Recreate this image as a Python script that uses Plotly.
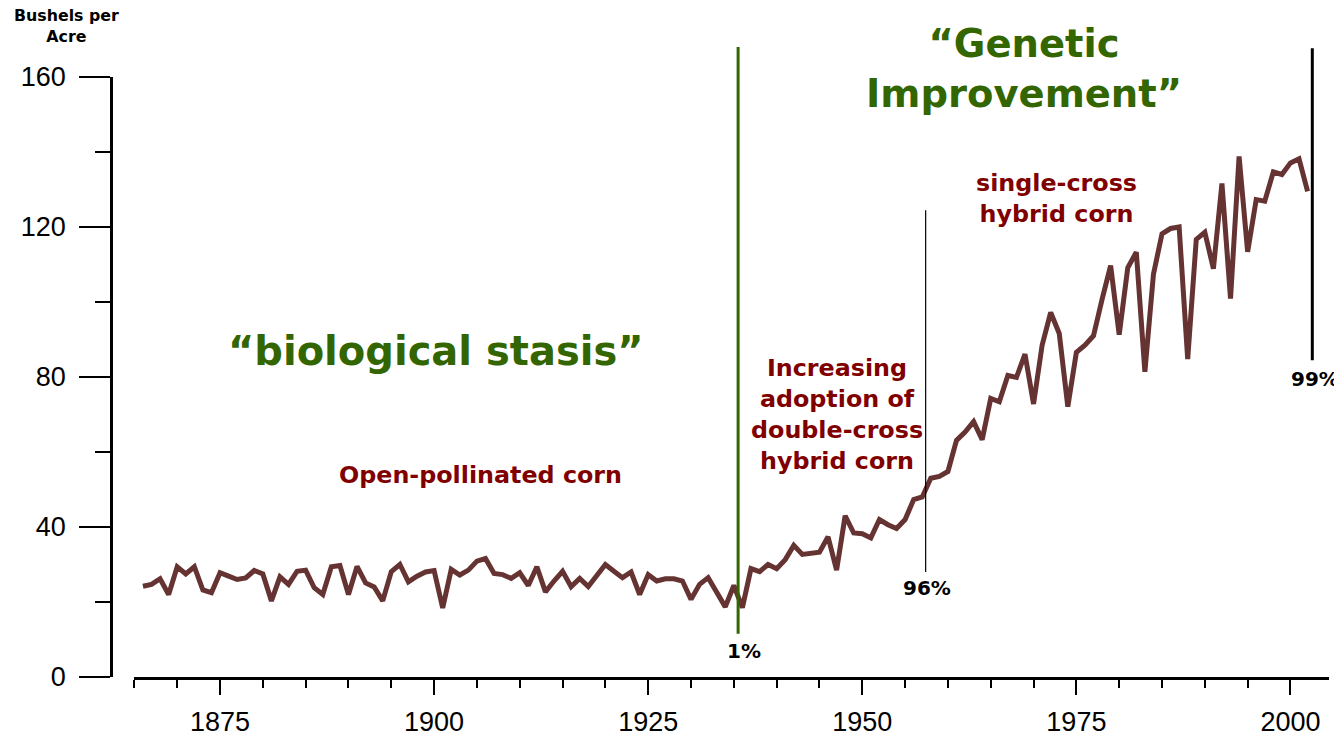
import plotly.graph_objects as go

# US corn yield, bushels per acre
years = list(range(1866, 2003))
yields = [
    24.2, 24.7, 26.2, 22.0, 29.4, 27.5, 29.4, 23.2, 22.5, 27.8,   # 1866-1875
    26.9, 26.0, 26.4, 28.4, 27.5, 20.3, 26.7, 24.7, 28.2, 28.5,   # 1876-1885
    23.8, 22.0, 29.4, 29.7, 22.0, 29.5, 25.1, 24.0, 20.3, 28.1,   # 1886-1895
    30.0, 25.4, 26.9, 28.0, 28.4, 18.4, 28.7, 27.2, 28.5, 30.9,   # 1896-1905
    31.6, 27.6, 27.3, 26.3, 27.8, 24.4, 29.4, 22.7, 25.6, 28.2,   # 1906-1915
    24.1, 26.3, 24.1, 27.2, 30.0, 28.2, 26.5, 28.0, 22.0, 27.3,   # 1916-1925
    25.6, 26.2, 26.2, 25.6, 20.7, 24.7, 26.5, 22.6, 18.7, 24.4,   # 1926-1935
    18.5, 28.9, 28.1, 30.0, 28.9, 31.3, 35.1, 32.7, 32.9, 33.3,   # 1936-1945
    37.4, 28.5, 43.0, 38.4, 38.2, 37.1, 42.0, 40.6, 39.6, 42.0,   # 1946-1955
    47.3, 48.0, 53.0, 53.5, 54.8, 63.1, 65.3, 68.1, 63.3, 74.3,   # 1956-1965
    73.4, 80.4, 79.9, 86.1, 72.8, 88.5, 97.2, 91.6, 72.1, 86.6,   # 1966-1975
    88.5, 91.0, 100.7, 109.7, 91.3, 109.1, 113.3, 81.4, 107.4, 118.2,  # 1976-1985
    119.6, 120.0, 84.8, 116.7, 118.6, 108.9, 131.6, 100.9, 138.8, 113.4,  # 1986-1995
    127.3, 126.9, 134.7, 134.0, 137.1, 138.2, 129.5,              # 1996-2002
]

# hybrid adoption markers: year, share label, line colour, width, line bottom/top (paper)
marker_years = [1935.5, 1957.4, 2002.55]
marker_labels = ["1%", "96%", "99%"]
marker_label_pos = [(1936.2, 6.9), (1957.6, 23.7), (2002.9, 79.5)]
marker_colors = ["#336600", "black", "black"]
marker_widths = [3, 1.2, 3]
marker_spans = [(0.072, 1.05), (0.175, 0.778), (0.528, 1.048)]

GREEN = "#336600"
RED = "#800000"
BOLD = "DejaVu Sans"
TICKFONT = "Liberation Sans, Arial, Helvetica, sans-serif"

fig = go.Figure()
fig.add_trace(go.Scatter(
    x=years, y=yields, mode="lines",
    line=dict(color="#663333", width=5),
    showlegend=False, hoverinfo="skip",
))

for yr, col, w, (b, t) in zip(marker_years, marker_colors, marker_widths, marker_spans):
    fig.add_shape(type="line", xref="x", yref="paper", x0=yr, x1=yr, y0=b, y1=t,
                  line=dict(color=col, width=w), layer="above")

for lab, (lx, ly) in zip(marker_labels, marker_label_pos):
    fig.add_annotation(x=lx, y=ly, xref="x", yref="y", text=lab, showarrow=False,
                       xanchor="center", yanchor="middle",
                       font=dict(family=BOLD, size=20, color="black", weight="bold"))

texts = [
    # text, x, y, xref, yref, size, colour
    ("“biological stasis”", 1900.2, 86.9, "x", "y", 40, GREEN),
    ("Open-pollinated corn", 1905.4, 54.0, "x", "y", 23.8, RED),
    ("Increasing<br>adoption of<br>double-cross<br>hybrid corn", 1947.0, 69.9, "x", "y", 23.8, RED),
    ("single-cross<br>hybrid corn", 1972.7, 127.6, "x", "y", 23.8, RED),
    ("“Genetic<br>Improvement”", 1968.9, 1.0142, "x", "paper", 38.5, GREEN),
    ("Bushels per<br>Acre", -0.0369, 1.0858, "paper", "paper", 15.8, "black"),
]
for txt, tx, ty, xr, yr, sz, col in texts:
    fig.add_annotation(x=tx, y=ty, xref=xr, yref=yr, text=txt, showarrow=False,
                       align="center", xanchor="center", yanchor="middle",
                       font=dict(family=BOLD, size=sz, color=col, weight="bold"))

# the page puts the figure 8px in from the top-left, so margins are shifted to suit
fig.update_layout(
    width=1342, height=739,
    margin=dict(l=103, r=21, t=69, b=70, autoexpand=False),
    plot_bgcolor="white", paper_bgcolor="white",
    xaxis=dict(
        domain=[0.0192, 1], range=[1865, 2004.5], automargin=False,
        showgrid=False, zeroline=False,
        showline=True, linecolor="black", linewidth=2.5,
        ticks="outside", tick0=1875, dtick=25, ticklen=15, tickwidth=2, tickcolor="black",
        minor=dict(tick0=1865, dtick=5, ticks="outside", ticklen=8, tickwidth=2, tickcolor="black"),
        tickfont=dict(family=TICKFONT, size=27, color="black"),
        ticklabelstandoff=4,
    ),
    yaxis=dict(
        anchor="free", position=0, range=[0, 160], automargin=False,
        showgrid=False, zeroline=False,
        showline=True, linecolor="black", linewidth=2.5,
        ticks="outside", tick0=0, dtick=40, ticklen=31, tickwidth=2, tickcolor="black",
        minor=dict(tick0=0, dtick=20, ticks="outside", ticklen=15, tickwidth=2, tickcolor="black"),
        tickfont=dict(family=TICKFONT, size=27, color="black"),
        ticklabelstandoff=8,
    ),
)

fig.write_html("out.html")
